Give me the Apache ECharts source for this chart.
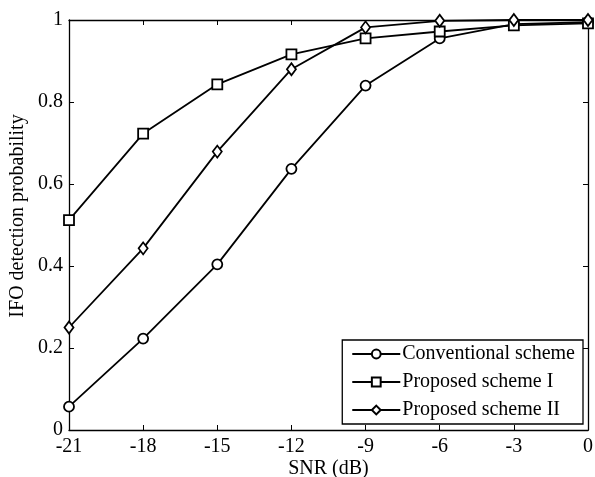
<!DOCTYPE html>
<html><head><meta charset="utf-8">
<script src="https://cdn.jsdelivr.net/npm/echarts@6/dist/echarts.min.js"></script>
<style>html,body{margin:0;padding:0;background:#fff}#c{width:595px;height:477px}</style>
</head><body><div id="c"></div>
<script>
const snr = [-21, -18, -15, -12, -9, -6, -3, 0];
const conventional = [0.057, 0.223, 0.404, 0.637, 0.840, 0.955, 0.990, 0.995];
const proposedI = [0.512, 0.723, 0.843, 0.916, 0.955, 0.972, 0.987, 0.992];
const proposedII = [0.250, 0.443, 0.679, 0.880, 0.982, 0.998, 1.000, 1.000];
const seriesNames = ['Conventional scheme', 'Proposed scheme I', 'Proposed scheme II'];

const font = 'Liberation Serif, Times New Roman, serif';
const chart = echarts.init(document.getElementById('c'));
function mk(name, vals, sym, size) {
  return {
    name, type: 'line', data: snr.map((x, i) => [x, vals[i]]),
    symbol: sym, symbolSize: size, showAllSymbol: true,
    lineStyle: { color: '#000', width: 1.8 },
    itemStyle: { color: '#fff', borderColor: '#000', borderWidth: 1.8 },
    animation: false
  };
}
const axLine = { show: true, onZero: false, lineStyle: { color: '#000', width: 1.3 } };
const axTick = { show: true, inside: true, length: 5, lineStyle: { color: '#000', width: 1 } };
chart.setOption({
  backgroundColor: '#fff',
  animation: false,
  grid: { left: 69, right: 7, top: 20, bottom: 47, containLabel: false, outerBoundsMode: 'none' },
  legend: {
    right: 12, bottom: 53, orient: 'vertical',
    data: seriesNames,
    itemWidth: 48, itemHeight: 11, itemGap: 8,
    borderColor: '#000', borderWidth: 1.3, padding: [4, 8, 4, 9],
    backgroundColor: '#fff',
    textStyle: { fontFamily: font, fontSize: 20, color: '#000', padding: [0, 0, 0, -3] }
  },
  xAxis: [{
    type: 'value', min: -21, max: 0, interval: 3,
    name: 'SNR (dB)', nameLocation: 'middle', nameGap: 29, nameMoveOverlap: false,
    nameTextStyle: { fontFamily: font, fontSize: 20, color: '#000' },
    axisLine: axLine, axisTick: axTick,
    axisLabel: { fontFamily: font, fontSize: 20, color: '#000', margin: 7 },
    splitLine: { show: false }
  }, {
    type: 'value', min: -21, max: 0, interval: 3, position: 'top',
    axisLine: axLine, axisTick: axTick,
    axisLabel: { show: false }, splitLine: { show: false }
  }],
  yAxis: [{
    type: 'value', min: 0, max: 1, interval: 0.2,
    name: 'IFO detection probability', nameLocation: 'middle', nameGap: 41, nameMoveOverlap: false,
    nameTextStyle: { fontFamily: font, fontSize: 20, color: '#000', padding: [0, 0, 0, 18] },
    axisLine: axLine, axisTick: axTick,
    axisLabel: { fontFamily: font, fontSize: 20, color: '#000', margin: 6 },
    splitLine: { show: false }
  }, {
    type: 'value', min: 0, max: 1, interval: 0.2, position: 'right',
    axisLine: axLine, axisTick: axTick,
    axisLabel: { show: false }, splitLine: { show: false }
  }],
  series: [
    mk(seriesNames[0], conventional, 'circle', 10),
    mk(seriesNames[1], proposedI, 'rect', 10),
    mk(seriesNames[2], proposedII, 'diamond', [9, 12])
  ]
});
</script></body></html>
